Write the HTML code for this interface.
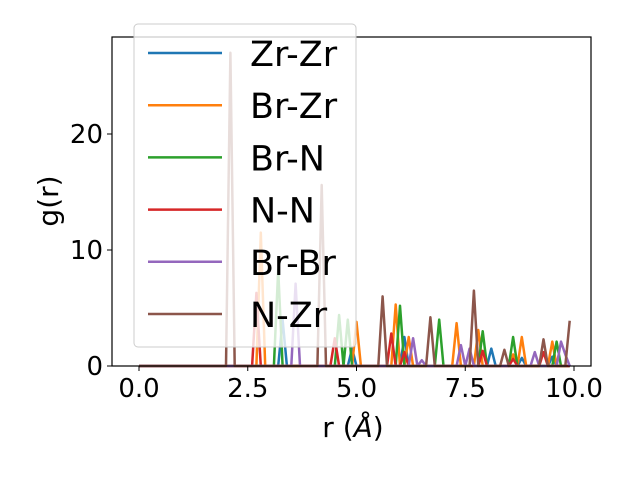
<!DOCTYPE html>
<html><head><meta charset="utf-8"><style>
body{margin:0;background:#fff;}
svg{display:block;font-family:"DejaVu Sans","Liberation Sans",sans-serif;}
</style></head><body>
<svg id="chart" width="640" height="480" viewBox="0 0 640 480">
<rect x="0" y="0" width="640" height="480" fill="#fff"/>
<g id="series"></g>
<rect x="112" y="37" width="479" height="329" fill="none" stroke="#000" stroke-width="1.2"/>
<g id="ticks"></g>
<text x="353" y="437" font-size="28" text-anchor="middle">r (<tspan font-style="italic">Å</tspan>)</text>
<text transform="translate(58,201) rotate(-90)" font-size="28" text-anchor="middle">g(r)</text>
<g id="legend"></g>
</svg>
<script>
const seriesNames = ["Zr-Zr","Br-Zr","Br-N","N-N","Br-Br","N-Zr"];
const seriesColors = ["#1f77b4","#ff7f0e","#2ca02c","#d62728","#9467bd","#8c564b"];
const peaksZrZr_r = [3.3, 4.9, 6.1, 8.1, 8.8, 9.5];
const peaksZrZr_g = [4.0, 1.5, 2.5, 1.5, 0.7, 0.8];
const peaksBrZr_r = [2.8, 5.0, 5.9, 6.2, 7.3, 7.8, 8.6, 8.8, 9.5];
const peaksBrZr_g = [11.5, 3.8, 5.3, 2.5, 3.7, 3.1, 1.0, 2.5, 2.1];
const peaksBrN_r = [3.2, 4.6, 4.8, 6.0, 6.9, 7.9, 8.6, 9.6];
const peaksBrN_g = [8.3, 4.4, 4.0, 5.2, 4.0, 3.0, 2.5, 2.1];
const peaksNN_r = [2.7, 4.5, 5.8, 6.1, 7.9, 8.6, 9.3];
const peaksNN_g = [6.3, 2.4, 2.8, 1.2, 1.3, 0.6, 1.2];
const peaksBrBr_r = [3.6, 6.3, 6.5, 7.4, 7.6, 9.1, 9.7, 9.8];
const peaksBrBr_g = [7.1, 2.4, 0.5, 1.8, 1.5, 1.2, 2.1, 1.0];
const peaksNZr_r = [2.1, 4.2, 5.6, 6.7, 7.7, 8.4, 9.3, 9.9];
const peaksNZr_g = [27.0, 15.6, 6.0, 4.2, 6.5, 1.4, 2.3, 3.9];
const xTicks = [0, 2.5, 5, 7.5, 10];
const xTickLabels = ["0.0","2.5","5.0","7.5","10.0"];
const yTicks = [0, 10, 20];
const yTickLabels = ["0","10","20"];
const rMin = 0, rMax = 9.9, rStep = 0.1;

const peakR = [peaksZrZr_r, peaksBrZr_r, peaksBrN_r, peaksNN_r, peaksBrBr_r, peaksNZr_r];
const peakG = [peaksZrZr_g, peaksBrZr_g, peaksBrN_g, peaksNN_g, peaksBrBr_g, peaksNZr_g];
const X = r => 139 + r * 43.5;
const Y = g => 366 - g * 11.6;
const NS = "http://www.w3.org/2000/svg";
const sg = document.getElementById("series");
const n = Math.round((rMax - rMin) / rStep) + 1;
for (let s = 0; s < seriesNames.length; s++) {
  const vals = new Array(n).fill(0);
  peakR[s].forEach((r, i) => { const k = Math.round((r - rMin) / rStep); if (k >= 0 && k < n) vals[k] = peakG[s][i]; });
  let d = "";
  for (let k = 0; k < n; k++) { const r = rMin + k * rStep; d += (k ? "L" : "M") + X(r).toFixed(1) + "," + Y(vals[k]).toFixed(1); }
  const p = document.createElementNS(NS, "path");
  p.setAttribute("d", d);
  p.setAttribute("fill", "none");
  p.setAttribute("stroke", seriesColors[s]);
  p.setAttribute("stroke-width", "2.5");
  p.setAttribute("stroke-linejoin", "round");
  
  
  sg.appendChild(p);
}
const tg = document.getElementById("ticks");
xTicks.forEach((t, i) => {
  const l = document.createElementNS(NS, "line");
  l.setAttribute("x1", X(t)); l.setAttribute("x2", X(t)); l.setAttribute("y1", 366); l.setAttribute("y2", 371);
  l.setAttribute("stroke", "#000"); l.setAttribute("stroke-width", "1");
  
  
  tg.appendChild(l);
  const tx = document.createElementNS(NS, "text");
  tx.setAttribute("x", X(t)); tx.setAttribute("y", 397); tx.setAttribute("font-size", "26"); tx.setAttribute("text-anchor", "middle");
  tx.textContent = xTickLabels[i];
  
  
  tg.appendChild(tx);
});
yTicks.forEach((t, i) => {
  const l = document.createElementNS(NS, "line");
  l.setAttribute("x1", 107); l.setAttribute("x2", 112); l.setAttribute("y1", Y(t)); l.setAttribute("y2", Y(t));
  l.setAttribute("stroke", "#000"); l.setAttribute("stroke-width", "1");
  
  
  tg.appendChild(l);
  const tx = document.createElementNS(NS, "text");
  tx.setAttribute("x", 103); tx.setAttribute("y", Y(t) + 9); tx.setAttribute("font-size", "26"); tx.setAttribute("text-anchor", "end");
  tx.textContent = yTickLabels[i];
  
  
  tg.appendChild(tx);
});
const lg = document.getElementById("legend");
const box = document.createElementNS(NS, "rect");
box.setAttribute("x", 134); box.setAttribute("y", 24); box.setAttribute("width", 222); box.setAttribute("height", 323);
box.setAttribute("rx", 4); box.setAttribute("fill", "#fff"); box.setAttribute("fill-opacity", "0.8"); box.setAttribute("stroke", "#ccc");


lg.appendChild(box);
seriesNames.forEach((nm, i) => {
  const y = 53 + i * 52.2;
  const l = document.createElementNS(NS, "line");
  l.setAttribute("x1", 148); l.setAttribute("x2", 222); l.setAttribute("y1", y); l.setAttribute("y2", y);
  l.setAttribute("stroke", seriesColors[i]); l.setAttribute("stroke-width", "2.5");
  
  
  lg.appendChild(l);
  const tx = document.createElementNS(NS, "text");
  tx.setAttribute("x", 250); tx.setAttribute("y", y + 13); tx.setAttribute("font-size", "35");
  tx.textContent = nm;
  
  
  lg.appendChild(tx);
});
</script>
</body></html>
